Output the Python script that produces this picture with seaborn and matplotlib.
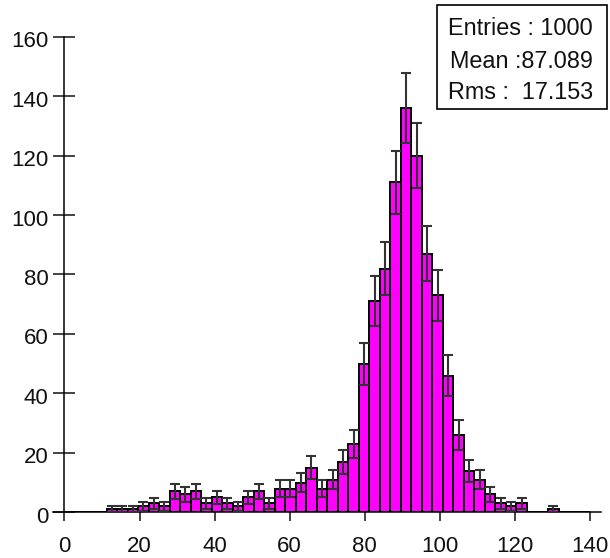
import numpy as np
import pandas as pd
import matplotlib
matplotlib.use("Agg")
import matplotlib.pyplot as plt
import matplotlib.transforms as mtransforms
import seaborn as sns
from matplotlib.patches import Rectangle

# ---- data ----
bin_lo, bin_hi, n_bins = 0.0, 140.0, 50
counts = [0, 0, 0, 0, 1, 1, 1, 2, 3, 2,
          7, 6, 7, 3, 5, 3, 2, 5, 7, 3,
          8, 8, 10, 15, 8, 11, 17, 23, 50, 71,
          82, 111, 136, 120, 87, 73, 46, 26, 14, 11,
          6, 3, 2, 3, 0, 0, 1, 0, 0, 0]
x_ticks = [0, 20, 40, 60, 80, 100, 120, 140]
y_ticks = [0, 20, 40, 60, 80, 100, 120, 140, 160]
stats_lines = ["Entries : 1000", "Mean :87.089", "Rms :  17.153"]

bw = (bin_hi - bin_lo) / n_bins
centers = bin_lo + bw * (np.arange(n_bins) + 0.5)
df = pd.DataFrame({"x": centers, "n": counts})

sns.set_theme(style="white")
plt.rcParams['font.family'] = ['Liberation Sans', 'DejaVu Sans']

W, H = 610, 558
fig = plt.figure(figsize=(W / 100, H / 100), dpi=100)
ax = fig.add_axes([53.2 / W, (H - 512.3) / H, 548.1 / W, 475.6 / H])

sns.histplot(data=df, x="x", weights="n", binwidth=bw,
             binrange=(bin_lo, bin_hi), element="bars",
             fill=True, color="#ff00ff", alpha=1, edgecolor="black",
             linewidth=1.4, ax=ax, zorder=2)

nz = df[df["n"] > 0]
ax.errorbar(nz["x"], nz["n"], yerr=np.sqrt(nz["n"]), fmt="none",
            ecolor="#333333", elinewidth=1.5, capsize=3.8, capthick=1.5,
            zorder=5)

ax.set_xlim(-3, 143)
ax.set_ylim(0, 160)
ax.set_xticks(x_ticks)
ax.set_yticks(y_ticks)
ax.set_xlabel("")
ax.set_ylabel("")
ax.grid(False)
for s in ["top", "right"]:
    ax.spines[s].set_visible(False)
ax.spines["left"].set_position(("data", 0))
ax.spines["bottom"].set_position(("data", 0))
for s in ["left", "bottom"]:
    ax.spines[s].set_color("black")
    ax.spines[s].set_linewidth(1.1)
ax.tick_params(axis="y", direction="inout", length=15.6, width=1.1, pad=3.6,
               labelsize=16, colors="black", left=True)
ax.tick_params(axis="x", direction="out", length=6.8, width=1.1, pad=10.5,
               labelsize=16, colors="black", bottom=True)
ax.tick_params(colors="#111111", which="both")

# y labels sit a little below their ticks in the reference
off = mtransforms.ScaledTranslation(0, -2.5 / 100, fig.dpi_scale_trans)
for lab in ax.get_yticklabels():
    lab.set_transform(lab.get_transform() + off)

# statistics box
bx0, bx1, by0, by1 = 436.5, 607.0, 5.0, 108.5
fig.add_artist(Rectangle((bx0 / W, (H - by1) / H), (bx1 - bx0) / W, (by1 - by0) / H,
                         transform=fig.transFigure, facecolor="white",
                         edgecolor="black", linewidth=1.2, zorder=10))
for txt, yb in zip(stats_lines, [35.0, 68.3, 99.0]):
    fig.text(593 / W, (H - yb) / H, txt, ha="right", va="baseline",
             fontsize=16.8, color="#111111", zorder=11)

fig.savefig("out.png", dpi=100)
